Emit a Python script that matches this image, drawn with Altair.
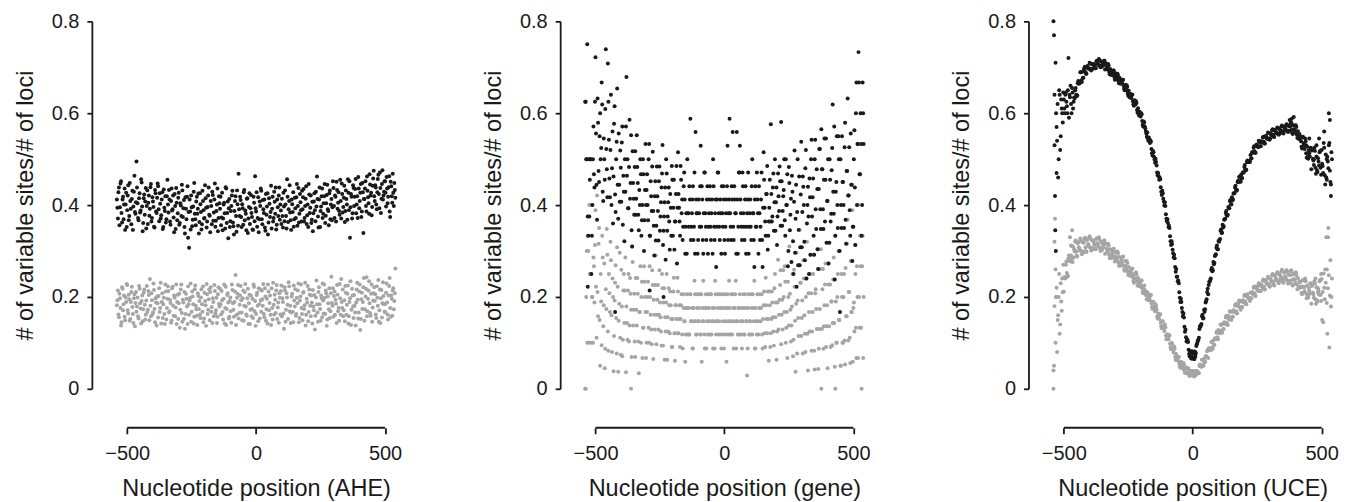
import altair as alt
import pandas as pd

# nucleotide positions: two interleaved sampling grids (every 4 nt, offset by 2 nt)
POS = list(range(-540, 541, 4))
POS2 = list(range(-538, 539, 4))

AHE_BLACK = [
    0.412, 0.371, 0.438, 0.395, 0.452, 0.362, 0.418, 0.401, 0.346, 0.427,
    0.389, 0.443, 0.376, 0.409, 0.358, 0.431, 0.397, 0.464, 0.381, 0.495,
    0.404, 0.367, 0.426, 0.388, 0.449, 0.343, 0.415, 0.379, 0.437, 0.398,
    0.359, 0.421, 0.392, 0.446, 0.372, 0.408, 0.353, 0.433, 0.386, 0.416,
    0.441, 0.365, 0.403, 0.378, 0.428, 0.352, 0.394, 0.419, 0.369, 0.455,
    0.384, 0.412, 0.357, 0.436, 0.391, 0.373, 0.424, 0.348, 0.405, 0.382,
    0.427, 0.361, 0.399, 0.444, 0.374, 0.411, 0.338, 0.392, 0.418, 0.329,
    0.307, 0.386, 0.421, 0.354, 0.397, 0.448, 0.369, 0.408, 0.381, 0.425,
    0.363, 0.402, 0.347, 0.431, 0.389, 0.372, 0.415, 0.351, 0.396, 0.438,
    0.377, 0.409, 0.358, 0.422, 0.384, 0.447, 0.366, 0.401, 0.343, 0.419,
    0.392, 0.356, 0.427, 0.371, 0.405, 0.349, 0.436, 0.383, 0.328, 0.413,
    0.365, 0.398, 0.431, 0.354, 0.387, 0.419, 0.342, 0.402, 0.468, 0.376,
    0.411, 0.352, 0.393, 0.428, 0.367, 0.381, 0.414, 0.339, 0.396, 0.359,
    0.422, 0.374, 0.346, 0.405, 0.463, 0.386, 0.353, 0.417, 0.369, 0.398,
    0.431, 0.358, 0.391, 0.412, 0.344, 0.379, 0.426, 0.362, 0.403, 0.385,
    0.349, 0.418, 0.372, 0.407, 0.438, 0.357, 0.395, 0.421, 0.368, 0.388,
    0.414, 0.351, 0.397, 0.432, 0.376, 0.456, 0.363, 0.409, 0.384, 0.346,
    0.402, 0.428, 0.369, 0.393, 0.417, 0.355, 0.437, 0.381, 0.406, 0.364,
    0.391, 0.435, 0.372, 0.414, 0.359, 0.401, 0.446, 0.383, 0.421, 0.368,
    0.343, 0.408, 0.389, 0.429, 0.462, 0.375, 0.412, 0.352, 0.397, 0.436,
    0.381, 0.419, 0.361, 0.404, 0.444, 0.387, 0.426, 0.369, 0.413, 0.395,
    0.437, 0.372, 0.418, 0.451, 0.392, 0.428, 0.379, 0.409, 0.447, 0.384,
    0.416, 0.363, 0.432, 0.401, 0.456, 0.389, 0.329, 0.424, 0.371, 0.443,
    0.398, 0.435, 0.382, 0.419, 0.461, 0.393, 0.427, 0.374, 0.448, 0.339,
    0.413, 0.452, 0.386, 0.431, 0.404, 0.467, 0.421, 0.378, 0.442, 0.475,
    0.409, 0.438, 0.391, 0.457, 0.424, 0.471, 0.383, 0.446, 0.412, 0.429,
    0.452, 0.397, 0.436, 0.418, 0.463, 0.374, 0.441, 0.405, 0.427, 0.448,
    0.416,
]
AHE_BLACK_B = [
    0.394, 0.428, 0.356, 0.447, 0.383, 0.412, 0.369, 0.436, 0.401, 0.352,
    0.421, 0.367, 0.448, 0.392, 0.413, 0.346, 0.429, 0.385, 0.406, 0.438,
    0.372, 0.415, 0.384, 0.456, 0.397, 0.361, 0.423, 0.408, 0.349, 0.432,
    0.405, 0.377, 0.439, 0.364, 0.417, 0.396, 0.351, 0.426, 0.383, 0.447,
    0.391, 0.426, 0.371, 0.412, 0.348, 0.434, 0.387, 0.362, 0.419, 0.401,
    0.433, 0.364, 0.409, 0.388, 0.421, 0.341, 0.398, 0.437, 0.367, 0.416,
    0.357, 0.404, 0.376, 0.432, 0.393, 0.352, 0.417, 0.369, 0.441, 0.385,
    0.412, 0.347, 0.395, 0.368, 0.429, 0.381, 0.356, 0.418, 0.392, 0.338,
    0.426, 0.385, 0.358, 0.409, 0.371, 0.443, 0.394, 0.364, 0.421, 0.379,
    0.341, 0.398, 0.429, 0.366, 0.412, 0.353, 0.387, 0.436, 0.372, 0.404,
    0.418, 0.373, 0.345, 0.401, 0.382, 0.439, 0.361, 0.408, 0.393, 0.352,
    0.387, 0.421, 0.362, 0.336, 0.409, 0.376, 0.432, 0.355, 0.391, 0.418,
    0.374, 0.402, 0.357, 0.433, 0.388, 0.345, 0.415, 0.371, 0.426, 0.393,
    0.383, 0.347, 0.418, 0.365, 0.393, 0.428, 0.372, 0.341, 0.408, 0.436,
    0.369, 0.411, 0.383, 0.351, 0.424, 0.397, 0.336, 0.415, 0.374, 0.442,
    0.392, 0.364, 0.429, 0.381, 0.347, 0.412, 0.376, 0.438, 0.401, 0.359,
    0.376, 0.427, 0.365, 0.401, 0.349, 0.418, 0.391, 0.443, 0.367, 0.412,
    0.385, 0.353, 0.416, 0.372, 0.446, 0.398, 0.362, 0.424, 0.389, 0.431,
    0.417, 0.364, 0.398, 0.441, 0.378, 0.352, 0.423, 0.394, 0.361, 0.407,
    0.382, 0.426, 0.365, 0.397, 0.413, 0.351, 0.438, 0.387, 0.419, 0.372,
    0.404, 0.446, 0.377, 0.422, 0.391, 0.356, 0.432, 0.401, 0.367, 0.452,
    0.398, 0.421, 0.364, 0.433, 0.405, 0.387, 0.455, 0.371, 0.424, 0.396,
    0.442, 0.387, 0.413, 0.368, 0.427, 0.452, 0.395, 0.418, 0.382, 0.437,
    0.418, 0.457, 0.401, 0.372, 0.436, 0.409, 0.446, 0.386, 0.428, 0.413,
    0.436, 0.398, 0.462, 0.417, 0.381, 0.445, 0.427, 0.396, 0.458, 0.419,
    0.443, 0.401, 0.428, 0.466, 0.393, 0.437, 0.414, 0.476, 0.421, 0.452,
    0.427, 0.461, 0.404, 0.439, 0.386, 0.451, 0.419, 0.468, 0.398, 0.433,
]

AHE_GRAY = [
    0.182, 0.214, 0.156, 0.197, 0.138, 0.221, 0.171, 0.203, 0.149, 0.189,
    0.226, 0.164, 0.195, 0.152, 0.211, 0.178, 0.143, 0.206, 0.187, 0.168,
    0.199, 0.153, 0.218, 0.175, 0.191, 0.147, 0.209, 0.183, 0.161, 0.224,
    0.172, 0.204, 0.239, 0.158, 0.193, 0.166, 0.215, 0.145, 0.188, 0.201,
    0.155, 0.219, 0.176, 0.142, 0.208, 0.184, 0.163, 0.227, 0.151, 0.196,
    0.213, 0.169, 0.187, 0.148, 0.222, 0.159, 0.198, 0.177, 0.141, 0.205,
    0.186, 0.133, 0.216, 0.165, 0.194, 0.152, 0.131, 0.207, 0.179, 0.223,
    0.161, 0.198, 0.146, 0.212, 0.184, 0.157, 0.225, 0.173, 0.139, 0.202,
    0.191, 0.154, 0.217, 0.168, 0.145, 0.209, 0.182, 0.228, 0.163, 0.195,
    0.149, 0.221, 0.178, 0.197, 0.158, 0.213, 0.171, 0.143, 0.206, 0.185,
    0.218, 0.162, 0.193, 0.151, 0.227, 0.176, 0.139, 0.204, 0.188, 0.157,
    0.199, 0.144, 0.215, 0.172, 0.189, 0.248, 0.161, 0.207, 0.153, 0.183,
    0.224, 0.166, 0.197, 0.148, 0.211, 0.179, 0.159, 0.218, 0.186, 0.141,
    0.203, 0.174, 0.154, 0.222, 0.191, 0.163, 0.209, 0.147, 0.184, 0.216,
    0.168, 0.195, 0.228, 0.156, 0.201, 0.173, 0.142, 0.212, 0.187, 0.161,
    0.219, 0.151, 0.183, 0.205, 0.165, 0.226, 0.177, 0.144, 0.198, 0.213,
    0.158, 0.189, 0.131, 0.214, 0.172, 0.199, 0.152, 0.223, 0.181, 0.166,
    0.207, 0.145, 0.192, 0.217, 0.163, 0.186, 0.229, 0.154, 0.201, 0.176,
    0.149, 0.211, 0.182, 0.138, 0.196, 0.224, 0.167, 0.205, 0.158, 0.188,
    0.215, 0.171, 0.129, 0.199, 0.184, 0.146, 0.221, 0.174, 0.203, 0.156,
    0.192, 0.227, 0.163, 0.208, 0.151, 0.186, 0.219, 0.169, 0.244, 0.181,
    0.157, 0.212, 0.194, 0.143, 0.205, 0.176, 0.228, 0.161, 0.189, 0.216,
    0.171, 0.147, 0.209, 0.183, 0.225, 0.158, 0.197, 0.139, 0.218, 0.179,
    0.204, 0.166, 0.188, 0.231, 0.153, 0.212, 0.128, 0.195, 0.174, 0.221,
    0.148, 0.201, 0.243, 0.169, 0.214, 0.186, 0.159, 0.227, 0.177, 0.208,
    0.191, 0.162, 0.223, 0.181, 0.146, 0.216, 0.197, 0.155, 0.232, 0.184,
    0.167, 0.209, 0.188, 0.151, 0.224, 0.176, 0.203, 0.159, 0.219, 0.191,
    0.262,
]
AHE_GRAY_B = [
    0.193, 0.162, 0.207, 0.176, 0.145, 0.218, 0.184, 0.157, 0.199, 0.228,
    0.171, 0.205, 0.148, 0.189, 0.222, 0.163, 0.197, 0.136, 0.211, 0.179,
    0.158, 0.224, 0.186, 0.142, 0.203, 0.173, 0.216, 0.151, 0.192, 0.167,
    0.213, 0.149, 0.181, 0.208, 0.162, 0.229, 0.174, 0.197, 0.138, 0.186,
    0.202, 0.167, 0.231, 0.189, 0.154, 0.198, 0.141, 0.212, 0.176, 0.223,
    0.166, 0.194, 0.144, 0.219, 0.181, 0.203, 0.158, 0.227, 0.189, 0.152,
    0.207, 0.172, 0.227, 0.146, 0.188, 0.211, 0.163, 0.196, 0.141, 0.184,
    0.193, 0.229, 0.168, 0.201, 0.142, 0.217, 0.181, 0.159, 0.208, 0.174,
    0.162, 0.199, 0.184, 0.223, 0.153, 0.191, 0.137, 0.206, 0.172, 0.216,
    0.211, 0.168, 0.143, 0.189, 0.226, 0.164, 0.198, 0.157, 0.221, 0.179,
    0.184, 0.213, 0.167, 0.196, 0.142, 0.222, 0.174, 0.208, 0.153, 0.191,
    0.169, 0.227, 0.186, 0.157, 0.212, 0.139, 0.198, 0.226, 0.165, 0.203,
    0.193, 0.149, 0.214, 0.181, 0.228, 0.162, 0.197, 0.141, 0.205, 0.172,
    0.158, 0.196, 0.227, 0.169, 0.137, 0.204, 0.181, 0.219, 0.153, 0.192,
    0.214, 0.181, 0.163, 0.219, 0.148, 0.196, 0.227, 0.171, 0.203, 0.139,
    0.176, 0.231, 0.162, 0.194, 0.214, 0.152, 0.188, 0.208, 0.162, 0.225,
    0.197, 0.164, 0.221, 0.146, 0.208, 0.183, 0.232, 0.169, 0.143, 0.201,
    0.168, 0.225, 0.179, 0.159, 0.198, 0.214, 0.145, 0.192, 0.227, 0.163,
    0.209, 0.174, 0.231, 0.161, 0.188, 0.147, 0.216, 0.181, 0.203, 0.142,
    0.179, 0.204, 0.159, 0.236, 0.166, 0.211, 0.184, 0.148, 0.197, 0.229,
    0.164, 0.198, 0.214, 0.137, 0.201, 0.173, 0.154, 0.208, 0.187, 0.219,
    0.202, 0.161, 0.185, 0.226, 0.169, 0.148, 0.197, 0.239, 0.176, 0.158,
    0.193, 0.224, 0.161, 0.207, 0.142, 0.189, 0.234, 0.172, 0.203, 0.154,
    0.181, 0.138, 0.216, 0.194, 0.166, 0.227, 0.152, 0.209, 0.189, 0.241,
    0.173, 0.218, 0.158, 0.196, 0.234, 0.165, 0.207, 0.146, 0.192, 0.221,
    0.206, 0.154, 0.198, 0.237, 0.171, 0.143, 0.215, 0.186, 0.202, 0.168,
    0.185, 0.229, 0.162, 0.203, 0.241, 0.157, 0.196, 0.214, 0.173, 0.208,
]

GENE_BLACK = [
    0.625, 0.5, 0.75, 0.333, 0.375, 0.5, 0.25, 0.4, 0.571, 0.438,
    0.722, 0.444, 0.632, 0.474, 0.55, 0.5, 0.667, 0.429, 0.545, 0.455,
    0.739, 0.478, 0.708, 0.542, 0.417, 0.64, 0.48, 0.36, 0.577, 0.423,
    0.5, 0.654, 0.37, 0.444, 0.519, 0.407, 0.571, 0.464, 0.321, 0.429,
    0.679, 0.5, 0.393, 0.586, 0.448, 0.345, 0.517, 0.414, 0.483, 0.379,
    0.552, 0.448, 0.345, 0.4, 0.467, 0.367, 0.5, 0.3, 0.433, 0.4,
    0.467, 0.367, 0.533, 0.333, 0.419, 0.484, 0.387, 0.29, 0.452, 0.355,
    0.419, 0.323, 0.484, 0.375, 0.438, 0.531, 0.344, 0.406, 0.281, 0.469,
    0.375, 0.438, 0.303, 0.394, 0.485, 0.333, 0.455, 0.364, 0.424, 0.273,
    0.515, 0.394, 0.333, 0.455, 0.412, 0.353, 0.471, 0.294, 0.382, 0.5,
    0.382, 0.441, 0.588, 0.353, 0.412, 0.324, 0.471, 0.559, 0.382, 0.294,
    0.412, 0.353, 0.529, 0.441, 0.324, 0.382, 0.471, 0.353, 0.412, 0.294,
    0.382, 0.441, 0.324, 0.412, 0.5, 0.353, 0.382, 0.265, 0.412, 0.471,
    0.353, 0.412, 0.294, 0.382, 0.441, 0.324, 0.353, 0.412, 0.529, 0.382,
    0.588, 0.353, 0.441, 0.559, 0.324, 0.412, 0.382, 0.559, 0.294, 0.471,
    0.529, 0.382, 0.324, 0.441, 0.353, 0.412, 0.294, 0.382, 0.471, 0.353,
    0.412, 0.324, 0.5, 0.382, 0.265, 0.441, 0.353, 0.412, 0.294, 0.382,
    0.353, 0.471, 0.265, 0.515, 0.394, 0.333, 0.424, 0.303, 0.364, 0.455,
    0.576, 0.364, 0.438, 0.344, 0.5, 0.406, 0.313, 0.469, 0.387, 0.452,
    0.581, 0.355, 0.419, 0.5, 0.333, 0.4, 0.467, 0.3, 0.448, 0.379,
    0.276, 0.429, 0.25, 0.519, 0.37, 0.222, 0.5, 0.346, 0.269, 0.423,
    0.308, 0.462, 0.4, 0.28, 0.52, 0.36, 0.44, 0.25, 0.417, 0.5,
    0.375, 0.458, 0.292, 0.542, 0.348, 0.435, 0.261, 0.522, 0.391, 0.565,
    0.478, 0.348, 0.545, 0.455, 0.318, 0.409, 0.273, 0.5, 0.364, 0.476,
    0.619, 0.381, 0.238, 0.429, 0.55, 0.35, 0.5, 0.167, 0.4, 0.55,
    0.45, 0.35, 0.579, 0.316, 0.474, 0.421, 0.526, 0.333, 0.444, 0.278,
    0.353, 0.563, 0.313, 0.667, 0.533, 0.733, 0.467, 0.6, 0.333, 0.667,
    0.533,
]
GENE_BLACK_B = [
    0.625, 0.5, 0.375, 0.5, 0.455, 0.5, 0.333, 0.5, 0.467, 0.625,
    0.556, 0.368, 0.579, 0.45, 0.6, 0.524, 0.619, 0.409, 0.5, 0.609,
    0.522, 0.417, 0.625, 0.458, 0.52, 0.4, 0.56, 0.462, 0.615, 0.385,
    0.538, 0.444, 0.556, 0.407, 0.481, 0.536, 0.357, 0.429, 0.5, 0.571,
    0.464, 0.393, 0.483, 0.414, 0.552, 0.31, 0.448, 0.379, 0.517, 0.414,
    0.483, 0.379, 0.433, 0.5, 0.333, 0.4, 0.467, 0.367, 0.533, 0.433,
    0.4, 0.5, 0.333, 0.452, 0.387, 0.516, 0.355, 0.419, 0.323, 0.484,
    0.387, 0.452, 0.344, 0.406, 0.469, 0.313, 0.375, 0.438, 0.5, 0.344,
    0.406, 0.364, 0.424, 0.333, 0.455, 0.394, 0.303, 0.364, 0.485, 0.394,
    0.424, 0.364, 0.485, 0.382, 0.324, 0.441, 0.412, 0.353, 0.294, 0.382,
    0.353, 0.412, 0.324, 0.382, 0.441, 0.353, 0.294, 0.412, 0.382, 0.324,
    0.382, 0.441, 0.353, 0.412, 0.294, 0.471, 0.382, 0.324, 0.441, 0.353,
    0.412, 0.353, 0.382, 0.294, 0.441, 0.324, 0.412, 0.353, 0.471, 0.382,
    0.324, 0.382, 0.441, 0.353, 0.412, 0.294, 0.382, 0.441, 0.324, 0.412,
    0.382, 0.324, 0.412, 0.353, 0.441, 0.382, 0.294, 0.412, 0.353, 0.471,
    0.412, 0.353, 0.471, 0.382, 0.324, 0.441, 0.353, 0.412, 0.294, 0.382,
    0.353, 0.441, 0.382, 0.324, 0.412, 0.353, 0.471, 0.382, 0.441, 0.324,
    0.412, 0.324, 0.394, 0.455, 0.364, 0.424, 0.485, 0.333, 0.394, 0.364,
    0.424, 0.375, 0.469, 0.406, 0.344, 0.438, 0.375, 0.419, 0.484, 0.355,
    0.452, 0.387, 0.433, 0.367, 0.5, 0.4, 0.267, 0.483, 0.345, 0.414,
    0.464, 0.321, 0.407, 0.296, 0.444, 0.385, 0.269, 0.462, 0.308, 0.538,
    0.385, 0.44, 0.32, 0.48, 0.24, 0.4, 0.375, 0.458, 0.292, 0.542,
    0.417, 0.333, 0.5, 0.391, 0.478, 0.304, 0.435, 0.522, 0.348, 0.478,
    0.391, 0.455, 0.364, 0.545, 0.409, 0.5, 0.318, 0.455, 0.381, 0.524,
    0.429, 0.571, 0.333, 0.45, 0.4, 0.55, 0.3, 0.5, 0.35, 0.45,
    0.4, 0.526, 0.368, 0.474, 0.632, 0.421, 0.389, 0.556, 0.444, 0.353,
    0.5, 0.438, 0.6, 0.4, 0.533, 0.667, 0.467, 0.533, 0.4, 0.6,
]

GENE_GRAY = [
    0.0, 0.2, 0.1, 0.3, 0.4, 0.25, 0.1, 0.2, 0.286, 0.188,
    0.389, 0.111, 0.211, 0.316, 0.15, 0.25, 0.095, 0.286, 0.182, 0.045,
    0.217, 0.348, 0.125, 0.25, 0.167, 0.28, 0.08, 0.2, 0.115, 0.231,
    0.154, 0.308, 0.037, 0.185, 0.111, 0.259, 0.071, 0.214, 0.143, 0.286,
    0.179, 0.107, 0.25, 0.138, 0.207, 0.069, 0.276, 0.172, 0.103, 0.241,
    0.138, 0.207, 0.034, 0.167, 0.1, 0.233, 0.133, 0.267, 0.2, 0.067,
    0.167, 0.233, 0.1, 0.2, 0.129, 0.258, 0.065, 0.161, 0.226, 0.097,
    0.194, 0.129, 0.258, 0.156, 0.094, 0.219, 0.188, 0.063, 0.125, 0.25,
    0.156, 0.219, 0.121, 0.182, 0.091, 0.152, 0.242, 0.061, 0.182, 0.121,
    0.212, 0.152, 0.091, 0.182, 0.118, 0.206, 0.147, 0.059, 0.176, 0.118,
    0.176, 0.118, 0.206, 0.147, 0.088, 0.176, 0.235, 0.147, 0.118, 0.206,
    0.147, 0.206, 0.118, 0.059, 0.176, 0.147, 0.088, 0.206, 0.176, 0.118,
    0.176, 0.118, 0.206, 0.147, 0.088, 0.176, 0.235, 0.118, 0.147, 0.206,
    0.147, 0.176, 0.088, 0.206, 0.118, 0.176, 0.147, 0.059, 0.206, 0.118,
    0.176, 0.118, 0.147, 0.206, 0.088, 0.176, 0.235, 0.147, 0.118, 0.176,
    0.206, 0.147, 0.088, 0.176, 0.118, 0.206, 0.147, 0.029, 0.176, 0.118,
    0.147, 0.206, 0.118, 0.176, 0.235, 0.088, 0.147, 0.206, 0.118, 0.176,
    0.147, 0.206, 0.088, 0.182, 0.121, 0.242, 0.152, 0.212, 0.061, 0.182,
    0.121, 0.212, 0.156, 0.094, 0.25, 0.188, 0.125, 0.281, 0.161, 0.226,
    0.097, 0.194, 0.258, 0.167, 0.233, 0.133, 0.067, 0.2, 0.31, 0.172,
    0.138, 0.25, 0.107, 0.222, 0.037, 0.296, 0.192, 0.115, 0.346, 0.231,
    0.154, 0.077, 0.24, 0.12, 0.2, 0.32, 0.04, 0.167, 0.292, 0.208,
    0.125, 0.25, 0.083, 0.208, 0.174, 0.304, 0.043, 0.13, 0.261, 0.0,
    0.217, 0.087, 0.182, 0.273, 0.136, 0.045, 0.227, 0.318, 0.091, 0.19,
    0.143, 0.286, 0.048, 0.19, 0.1, 0.25, 0.15, 0.3, 0.05, 0.2,
    0.1, 0.25, 0.053, 0.158, 0.316, 0.105, 0.211, 0.056, 0.167, 0.389,
    0.176, 0.125, 0.25, 0.067, 0.2, 0.4, 0.133, 0.267, 0.0, 0.333,
    0.2,
]
GENE_GRAY_B = [
    0.0, 0.3, 0.333, 0.1, 0.25, 0.4, 0.2, 0.1, 0.267, 0.313,
    0.222, 0.421, 0.158, 0.35, 0.05, 0.19, 0.333, 0.136, 0.273, 0.087,
    0.174, 0.292, 0.083, 0.208, 0.32, 0.16, 0.24, 0.038, 0.192, 0.269,
    0.077, 0.222, 0.148, 0.296, 0.074, 0.179, 0.107, 0.25, 0.214, 0.036,
    0.143, 0.214, 0.103, 0.241, 0.172, 0.31, 0.138, 0.207, 0.069, 0.172,
    0.241, 0.103, 0.167, 0.267, 0.2, 0.067, 0.133, 0.233, 0.167, 0.1,
    0.2, 0.133, 0.267, 0.161, 0.097, 0.226, 0.194, 0.129, 0.29, 0.161,
    0.226, 0.161, 0.188, 0.125, 0.25, 0.094, 0.219, 0.156, 0.188, 0.063,
    0.125, 0.182, 0.212, 0.152, 0.091, 0.212, 0.121, 0.182, 0.152, 0.242,
    0.121, 0.182, 0.152, 0.206, 0.088, 0.176, 0.147, 0.118, 0.206, 0.176,
    0.118, 0.206, 0.147, 0.176, 0.088, 0.147, 0.206, 0.118, 0.176, 0.147,
    0.176, 0.118, 0.206, 0.147, 0.235, 0.118, 0.176, 0.088, 0.147, 0.206,
    0.147, 0.206, 0.118, 0.176, 0.147, 0.088, 0.206, 0.147, 0.176, 0.118,
    0.206, 0.118, 0.176, 0.147, 0.088, 0.206, 0.118, 0.176, 0.147, 0.235,
    0.147, 0.206, 0.118, 0.176, 0.147, 0.206, 0.088, 0.147, 0.176, 0.118,
    0.176, 0.118, 0.147, 0.206, 0.118, 0.176, 0.147, 0.088, 0.206, 0.147,
    0.118, 0.176, 0.206, 0.147, 0.088, 0.176, 0.118, 0.147, 0.206, 0.176,
    0.176, 0.118, 0.152, 0.212, 0.091, 0.182, 0.121, 0.152, 0.212, 0.091,
    0.152, 0.188, 0.125, 0.219, 0.156, 0.063, 0.188, 0.129, 0.194, 0.258,
    0.161, 0.129, 0.2, 0.267, 0.1, 0.167, 0.233, 0.138, 0.207, 0.103,
    0.179, 0.071, 0.259, 0.148, 0.185, 0.077, 0.154, 0.269, 0.231, 0.115,
    0.192, 0.28, 0.16, 0.08, 0.24, 0.12, 0.208, 0.125, 0.25, 0.083,
    0.167, 0.292, 0.042, 0.217, 0.13, 0.261, 0.087, 0.174, 0.304, 0.13,
    0.261, 0.136, 0.227, 0.091, 0.182, 0.273, 0.136, 0.227, 0.19, 0.095,
    0.238, 0.143, 0.333, 0.1, 0.2, 0.3, 0.15, 0.05, 0.25, 0.1,
    0.2, 0.105, 0.263, 0.158, 0.368, 0.211, 0.111, 0.278, 0.167, 0.059,
    0.188, 0.313, 0.133, 0.267, 0.067, 0.2, 0.333, 0.133, 0.267, 0.067,
]

UCE_BLACK = [
    0.8, 0.53, 0.71, 0.47, 0.62, 0.5, 0.64, 0.55, 0.61, 0.58,
    0.63, 0.6, 0.645, 0.615, 0.65, 0.59, 0.635, 0.62, 0.655, 0.61,
    0.634, 0.65, 0.64, 0.639, 0.67, 0.666, 0.689, 0.672, 0.69, 0.677,
    0.699, 0.69, 0.686, 0.703, 0.698, 0.71, 0.697, 0.707, 0.697, 0.706,
    0.703, 0.698, 0.714, 0.708, 0.718, 0.704, 0.713, 0.701, 0.708, 0.714,
    0.695, 0.708, 0.699, 0.707, 0.69, 0.696, 0.683, 0.688, 0.693, 0.679,
    0.687, 0.678, 0.686, 0.67, 0.677, 0.664, 0.669, 0.673, 0.659, 0.65,
    0.654, 0.661, 0.643, 0.649, 0.634, 0.638, 0.641, 0.626, 0.616, 0.627,
    0.626, 0.607, 0.611, 0.595, 0.598, 0.6, 0.583, 0.571, 0.58, 0.567,
    0.556, 0.558, 0.54, 0.541, 0.541, 0.522, 0.508, 0.515, 0.499, 0.501,
    0.486, 0.465, 0.463, 0.46, 0.439, 0.422, 0.426, 0.407, 0.406, 0.38,
    0.365, 0.361, 0.355, 0.332, 0.313, 0.315, 0.295, 0.292, 0.265, 0.261,
    0.244, 0.236, 0.21, 0.189, 0.189, 0.167, 0.164, 0.135, 0.129, 0.103,
    0.106, 0.085, 0.071, 0.081, 0.07, 0.079, 0.067, 0.081, 0.078, 0.097,
    0.105, 0.111, 0.136, 0.139, 0.158, 0.153, 0.172, 0.173, 0.191, 0.211,
    0.206, 0.233, 0.237, 0.259, 0.256, 0.276, 0.274, 0.291, 0.307, 0.304,
    0.322, 0.324, 0.344, 0.339, 0.357, 0.354, 0.369, 0.383, 0.378, 0.379,
    0.393, 0.409, 0.402, 0.417, 0.412, 0.426, 0.438, 0.433, 0.433, 0.453,
    0.461, 0.452, 0.466, 0.459, 0.471, 0.483, 0.478, 0.477, 0.497, 0.495,
    0.495, 0.509, 0.502, 0.515, 0.525, 0.517, 0.514, 0.532, 0.528, 0.54,
    0.537, 0.528, 0.538, 0.547, 0.538, 0.534, 0.551, 0.546, 0.558, 0.545,
    0.545, 0.554, 0.563, 0.553, 0.548, 0.564, 0.558, 0.569, 0.556, 0.566,
    0.563, 0.571, 0.561, 0.556, 0.571, 0.565, 0.576, 0.562, 0.572, 0.561,
    0.578, 0.564, 0.555, 0.574, 0.563, 0.574, 0.553, 0.561, 0.544, 0.55,
    0.539, 0.523, 0.548, 0.53, 0.545, 0.513, 0.527, 0.501, 0.513, 0.524,
    0.478, 0.52, 0.497, 0.525, 0.481, 0.506, 0.472, 0.495, 0.515, 0.481,
    0.52, 0.485, 0.535, 0.465, 0.51, 0.455, 0.495, 0.53, 0.475, 0.445,
    0.5,
]
UCE_BLACK_B = [
    0.77, 0.42, 0.6, 0.54, 0.46, 0.65, 0.52, 0.63, 0.6, 0.645,
    0.61, 0.64, 0.625, 0.6, 0.72, 0.64, 0.66, 0.6, 0.645, 0.625,
    0.632, 0.655, 0.637, 0.665, 0.664, 0.665, 0.689, 0.668, 0.677, 0.695,
    0.701, 0.686, 0.701, 0.698, 0.696, 0.708, 0.693, 0.697, 0.707, 0.703,
    0.698, 0.712, 0.708, 0.705, 0.716, 0.7, 0.703, 0.711, 0.705, 0.714,
    0.708, 0.701, 0.695, 0.704, 0.685, 0.685, 0.692, 0.684, 0.693, 0.673,
    0.68, 0.674, 0.683, 0.665, 0.666, 0.673, 0.665, 0.673, 0.653, 0.662,
    0.65, 0.657, 0.638, 0.637, 0.642, 0.633, 0.64, 0.619, 0.628, 0.619,
    0.622, 0.601, 0.599, 0.603, 0.593, 0.598, 0.575, 0.582, 0.571, 0.561,
    0.549, 0.545, 0.547, 0.535, 0.538, 0.513, 0.518, 0.505, 0.492, 0.494,
    0.471, 0.47, 0.455, 0.456, 0.429, 0.431, 0.414, 0.399, 0.398, 0.37,
    0.369, 0.352, 0.35, 0.321, 0.321, 0.303, 0.286, 0.284, 0.255, 0.244,
    0.234, 0.23, 0.198, 0.196, 0.176, 0.158, 0.155, 0.124, 0.112, 0.107,
    0.102, 0.076, 0.082, 0.073, 0.066, 0.078, 0.065, 0.075, 0.093, 0.1,
    0.106, 0.13, 0.135, 0.141, 0.161, 0.154, 0.168, 0.188, 0.195, 0.218,
    0.226, 0.233, 0.24, 0.263, 0.258, 0.271, 0.289, 0.293, 0.312, 0.304,
    0.32, 0.326, 0.347, 0.34, 0.351, 0.368, 0.37, 0.387, 0.377, 0.396,
    0.393, 0.411, 0.401, 0.41, 0.425, 0.426, 0.442, 0.431, 0.45, 0.45,
    0.462, 0.451, 0.458, 0.471, 0.471, 0.487, 0.476, 0.494, 0.494, 0.494,
    0.494, 0.501, 0.515, 0.514, 0.528, 0.514, 0.53, 0.528, 0.526, 0.539,
    0.528, 0.539, 0.536, 0.549, 0.534, 0.549, 0.546, 0.544, 0.557, 0.542,
    0.556, 0.552, 0.565, 0.549, 0.563, 0.559, 0.556, 0.568, 0.553, 0.556,
    0.561, 0.573, 0.557, 0.57, 0.566, 0.562, 0.574, 0.559, 0.562, 0.571,
    0.58, 0.557, 0.573, 0.565, 0.558, 0.57, 0.546, 0.546, 0.555, 0.544,
    0.527, 0.549, 0.534, 0.522, 0.539, 0.503, 0.505, 0.519, 0.506, 0.525,
    0.519, 0.501, 0.487, 0.518, 0.468, 0.476, 0.502, 0.486, 0.518, 0.466,
    0.49, 0.47, 0.525, 0.445, 0.46, 0.505, 0.48, 0.535, 0.45, 0.515,
]

UCE_GRAY = [
    0.04, 0.18, 0.1, 0.22, 0.15, 0.2, 0.12, 0.23, 0.17, 0.21,
    0.212, 0.243, 0.27, 0.252, 0.246, 0.29, 0.28, 0.312, 0.284, 0.31,
    0.304, 0.32, 0.299, 0.288, 0.319, 0.306, 0.327, 0.3, 0.319, 0.297,
    0.326, 0.308, 0.298, 0.326, 0.313, 0.332, 0.307, 0.324, 0.304, 0.32,
    0.313, 0.304, 0.328, 0.315, 0.33, 0.307, 0.32, 0.302, 0.314, 0.323,
    0.294, 0.315, 0.302, 0.316, 0.292, 0.304, 0.285, 0.296, 0.304, 0.285,
    0.298, 0.285, 0.299, 0.275, 0.287, 0.268, 0.279, 0.287, 0.268, 0.257,
    0.267, 0.278, 0.255, 0.265, 0.246, 0.254, 0.261, 0.243, 0.231, 0.249,
    0.254, 0.233, 0.241, 0.223, 0.23, 0.236, 0.219, 0.208, 0.225, 0.212,
    0.203, 0.21, 0.193, 0.199, 0.204, 0.186, 0.174, 0.189, 0.176, 0.184,
    0.172, 0.153, 0.159, 0.163, 0.144, 0.132, 0.147, 0.133, 0.14, 0.116,
    0.109, 0.113, 0.117, 0.098, 0.086, 0.098, 0.085, 0.092, 0.07, 0.076,
    0.067, 0.07, 0.055, 0.046, 0.058, 0.048, 0.056, 0.04, 0.047, 0.034,
    0.045, 0.035, 0.028, 0.039, 0.032, 0.039, 0.029, 0.037, 0.03, 0.039,
    0.037, 0.034, 0.053, 0.049, 0.063, 0.052, 0.065, 0.059, 0.071, 0.082,
    0.067, 0.089, 0.086, 0.102, 0.09, 0.105, 0.096, 0.109, 0.122, 0.112,
    0.128, 0.123, 0.14, 0.126, 0.141, 0.13, 0.143, 0.155, 0.144, 0.139,
    0.153, 0.169, 0.154, 0.168, 0.157, 0.169, 0.181, 0.169, 0.164, 0.186,
    0.192, 0.177, 0.19, 0.178, 0.191, 0.202, 0.19, 0.184, 0.206, 0.199,
    0.196, 0.209, 0.197, 0.209, 0.22, 0.208, 0.202, 0.223, 0.216, 0.23,
    0.225, 0.213, 0.224, 0.235, 0.222, 0.216, 0.237, 0.23, 0.244, 0.227,
    0.224, 0.236, 0.247, 0.233, 0.225, 0.247, 0.239, 0.254, 0.235, 0.249,
    0.246, 0.256, 0.24, 0.231, 0.254, 0.243, 0.258, 0.236, 0.249, 0.232,
    0.256, 0.237, 0.225, 0.251, 0.237, 0.254, 0.227, 0.241, 0.219, 0.232,
    0.221, 0.206, 0.237, 0.22, 0.24, 0.207, 0.225, 0.199, 0.214, 0.229,
    0.185, 0.226, 0.206, 0.234, 0.195, 0.221, 0.19, 0.214, 0.234, 0.205,
    0.239, 0.211, 0.251, 0.195, 0.231, 0.187, 0.219, 0.247, 0.203, 0.179,
    0.24,
]
UCE_GRAY_B = [
    0.05, 0.37, 0.2, 0.08, 0.16, 0.25, 0.14, 0.19, 0.24, 0.27,
    0.243, 0.24, 0.277, 0.244, 0.284, 0.279, 0.277, 0.311, 0.276, 0.286,
    0.299, 0.323, 0.29, 0.317, 0.308, 0.301, 0.324, 0.293, 0.299, 0.318,
    0.329, 0.3, 0.324, 0.315, 0.309, 0.329, 0.301, 0.306, 0.323, 0.314,
    0.305, 0.326, 0.317, 0.31, 0.326, 0.3, 0.303, 0.317, 0.308, 0.323,
    0.315, 0.305, 0.297, 0.312, 0.285, 0.288, 0.3, 0.29, 0.305, 0.277,
    0.288, 0.28, 0.295, 0.268, 0.271, 0.283, 0.273, 0.288, 0.26, 0.278,
    0.261, 0.274, 0.248, 0.25, 0.259, 0.249, 0.262, 0.235, 0.25, 0.24,
    0.249, 0.225, 0.226, 0.234, 0.224, 0.236, 0.211, 0.224, 0.215, 0.206,
    0.195, 0.195, 0.204, 0.193, 0.204, 0.178, 0.189, 0.179, 0.169, 0.179,
    0.157, 0.164, 0.152, 0.162, 0.136, 0.147, 0.136, 0.126, 0.134, 0.108,
    0.119, 0.108, 0.116, 0.09, 0.1, 0.089, 0.079, 0.087, 0.063, 0.062,
    0.062, 0.069, 0.049, 0.059, 0.051, 0.044, 0.053, 0.035, 0.036, 0.043,
    0.045, 0.03, 0.039, 0.033, 0.029, 0.039, 0.027, 0.03, 0.039, 0.037,
    0.034, 0.05, 0.049, 0.048, 0.063, 0.05, 0.058, 0.071, 0.07, 0.085,
    0.086, 0.085, 0.084, 0.102, 0.087, 0.095, 0.11, 0.108, 0.125, 0.108,
    0.122, 0.121, 0.139, 0.122, 0.13, 0.145, 0.141, 0.159, 0.14, 0.159,
    0.151, 0.168, 0.15, 0.157, 0.171, 0.167, 0.184, 0.165, 0.183, 0.179,
    0.191, 0.172, 0.178, 0.193, 0.188, 0.205, 0.185, 0.203, 0.199, 0.196,
    0.191, 0.197, 0.211, 0.206, 0.223, 0.203, 0.221, 0.216, 0.213, 0.228,
    0.213, 0.227, 0.221, 0.238, 0.217, 0.235, 0.23, 0.227, 0.242, 0.222,
    0.239, 0.233, 0.25, 0.227, 0.246, 0.24, 0.235, 0.252, 0.23, 0.236,
    0.241, 0.259, 0.233, 0.253, 0.245, 0.238, 0.255, 0.229, 0.234, 0.247,
    0.258, 0.227, 0.249, 0.239, 0.23, 0.248, 0.217, 0.22, 0.234, 0.223,
    0.209, 0.236, 0.223, 0.212, 0.234, 0.197, 0.202, 0.22, 0.207, 0.23,
    0.224, 0.209, 0.198, 0.229, 0.185, 0.193, 0.219, 0.205, 0.237, 0.191,
    0.15, 0.145, 0.22, 0.26, 0.33, 0.12, 0.35, 0.09, 0.28, 0.2,
]

# further scattered points read near the panel ends (position, value)
GENE_BLACK_EXTRA_X = [-530, -424, -236, -290]
GENE_BLACK_EXTRA_Y = [0.222, 0.167, 0.2, 0.214]
GENE_GRAY_EXTRA_X = [-362, 430]
GENE_GRAY_EXTRA_Y = [0.0, 0.0]
UCE_BLACK_EXTRA_X = [-536, -533, -531, -528, -6, -2, 2, 6, 10, 376, 384, 392,
                     440, 452, 470, 480, 490, 510, 520, 528, 532, 536]
UCE_BLACK_EXTRA_Y = [0.64, 0.345, 0.3, 0.57, 0.066, 0.082, 0.08, 0.065, 0.07, 0.585, 0.588, 0.592,
                     0.53, 0.545, 0.5, 0.53, 0.545, 0.56, 0.5, 0.6, 0.585, 0.42]
UCE_GRAY_EXTRA_X = [-540, -536, -532, -530, -476, -472, -468, 476, 486, 498, 520, 525]
UCE_GRAY_EXTRA_Y = [0.0, 0.32, 0.26, 0.2, 0.33, 0.29, 0.345, 0.24, 0.21, 0.25, 0.26, 0.33]

Y_TICKS = [0, 0.2, 0.4, 0.6, 0.8]
X_TICKS = [-500, 0, 500]

for arr in (AHE_BLACK, AHE_GRAY, GENE_BLACK, GENE_GRAY, UCE_BLACK, UCE_GRAY):
    assert len(arr) == len(POS), len(arr)
for arr in (AHE_BLACK_B, AHE_GRAY_B, GENE_BLACK_B, GENE_GRAY_B, UCE_BLACK_B, UCE_GRAY_B):
    assert len(arr) == len(POS2), len(arr)

W, H = 306, 368
XMIN, XMAX = -637, 548
AXIS_OFF = 39
INK = "#1a1a1a"
GREY = "#a5a5a8"
FONT = "Liberation Sans"


def panel(name, gray_sets, black_sets):
    rows = []
    for xs, ys in gray_sets:
        rows += [{"x": x, "y": y, "s": "gray"} for x, y in zip(xs, ys)]
    for xs, ys in black_sets:
        rows += [{"x": x, "y": y, "s": "black"} for x, y in zip(xs, ys)]
    df = pd.DataFrame(rows)

    xs = alt.Scale(domain=[XMIN, XMAX], nice=False, zero=False)
    ys = alt.Scale(domain=[0, 0.8], nice=False, zero=False)
    xaxis = alt.Axis(
        values=X_TICKS, domain=False, grid=False,
        ticks=True, tickSize=6, tickWidth=1.8, tickColor=INK,
        offset=AXIS_OFF, labelFontSize=20, labelPadding=10, labelColor=INK,
        title=f"Nucleotide position ({name})", titleFontSize=23.5,
        titleFontWeight="normal", titleColor=INK, titlePadding=13,
        titleX=(0 - XMIN) / (XMAX - XMIN) * W,
    )
    yaxis = alt.Axis(
        values=Y_TICKS, grid=False,
        labelExpr="datum.value == 0 ? '0' : format(datum.value, '.1f')",
        domain=True, domainColor=INK, domainWidth=1.8,
        ticks=True, tickSize=5, tickWidth=1.8, tickColor=INK,
        labelFontSize=20, labelPadding=8, labelColor=INK,
        title="# of variable sites/# of loci", titleFontSize=23.5,
        titleFontWeight="normal", titleColor=INK, titlePadding=14,
    )
    pts = alt.Chart(df).mark_circle(size=16, opacity=1).encode(
        x=alt.X("x:Q", scale=xs, axis=xaxis),
        y=alt.Y("y:Q", scale=ys, axis=yaxis),
        color=alt.Color("s:N", scale=alt.Scale(domain=["gray", "black"], range=[GREY, INK]), legend=None),
    )
    rule = alt.Chart(pd.DataFrame({"x": [X_TICKS[0]], "x2": [X_TICKS[-1]]})).mark_rule(
        color=INK, strokeWidth=1.8
    ).encode(
        x=alt.X("x:Q", scale=xs, axis=xaxis),
        x2="x2:Q",
        y=alt.value(H + AXIS_OFF),
    )
    return alt.layer(pts, rule).properties(width=W, height=H)


p1 = panel("AHE",
           [(POS, AHE_GRAY), (POS2, AHE_GRAY_B)],
           [(POS, AHE_BLACK), (POS2, AHE_BLACK_B)])
p2 = panel("gene",
           [(POS, GENE_GRAY), (POS2, GENE_GRAY_B), (GENE_GRAY_EXTRA_X, GENE_GRAY_EXTRA_Y)],
           [(POS, GENE_BLACK), (POS2, GENE_BLACK_B), (GENE_BLACK_EXTRA_X, GENE_BLACK_EXTRA_Y)])
p3 = panel("UCE",
           [(POS, UCE_GRAY), (POS2, UCE_GRAY_B), (UCE_GRAY_EXTRA_X, UCE_GRAY_EXTRA_Y)],
           [(POS, UCE_BLACK), (POS2, UCE_BLACK_B), (UCE_BLACK_EXTRA_X, UCE_BLACK_EXTRA_Y)])

chart = alt.hconcat(p1, p2, p3, spacing=163, bounds="flush").properties(
    padding={"left": 5, "top": 3, "right": 5, "bottom": 0}
).configure(
    font=FONT,
    view=alt.ViewConfig(strokeWidth=0, stroke="transparent"),
)

chart.save("out.html", embed_options={"renderer": "svg", "actions": False})
